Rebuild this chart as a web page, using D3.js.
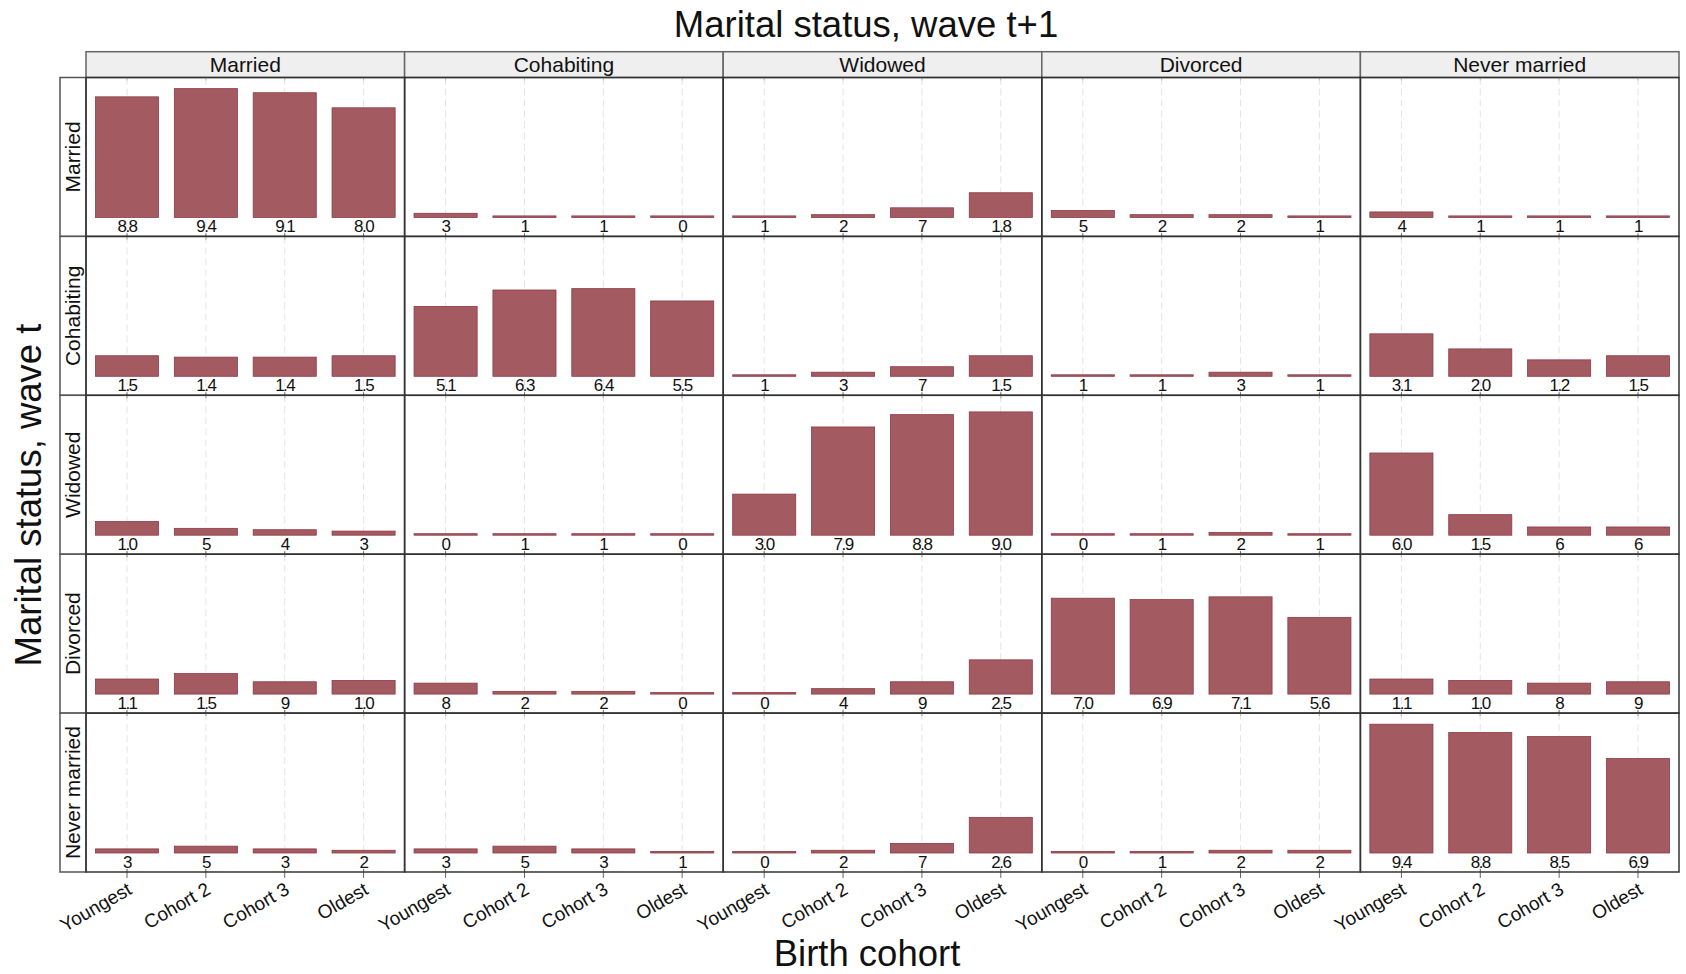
<!DOCTYPE html>
<html>
<head>
<meta charset="utf-8">
<script src="https://cdn.jsdelivr.net/npm/d3@7"></script>
<style>
  body { margin: 0; background: #fff; }
  text { font-family: "Liberation Sans", Arial, sans-serif; fill: #111; }
</style>
</head>
<body>
<svg id="chart"></svg>
<script>
// marital status categories (rows = wave t, columns = wave t+1)
const statuses = ["Married", "Cohabiting", "Widowed", "Divorced", "Never married"];
const cohorts = ["Youngest", "Cohort 2", "Cohort 3", "Oldest"];

// transition percentages, one array per wave-t status, columns in order of statuses
const fromMarried = [
  [88, 94, 91, 80], [3, 1, 1, 0], [1, 2, 7, 18], [5, 2, 2, 1], [4, 1, 1, 1]
];
const fromCohabiting = [
  [15, 14, 14, 15], [51, 63, 64, 55], [1, 3, 7, 15], [1, 1, 3, 1], [31, 20, 12, 15]
];
const fromWidowed = [
  [10, 5, 4, 3], [0, 1, 1, 0], [30, 79, 88, 90], [0, 1, 2, 1], [60, 15, 6, 6]
];
const fromDivorced = [
  [11, 15, 9, 10], [8, 2, 2, 0], [0, 4, 9, 25], [70, 69, 71, 56], [11, 10, 8, 9]
];
const fromNeverMarried = [
  [3, 5, 3, 2], [3, 5, 3, 1], [0, 2, 7, 26], [0, 1, 2, 2], [94, 88, 85, 69]
];
const rowsData = [fromMarried, fromCohabiting, fromWidowed, fromDivorced, fromNeverMarried];

const W = 1686, H = 974;
const gridLeft = 86, gridRight = 1679, gridTop = 77.5, gridBottom = 872;
const stripTop = 51.7, rowStripLeft = 60;

const svg = d3.select('#chart').attr('width', W).attr('height', H);

const colScale = d3.scaleBand().domain(statuses).range([gridLeft, gridRight]);
const rowScale = d3.scaleBand().domain(statuses).range([gridTop, gridBottom]);
const colW = colScale.bandwidth(), rowH = rowScale.bandwidth();
const baseline = rowH - 19;

const x = d3.scaleBand().domain(cohorts).range([0, colW]).paddingInner(0.2).paddingOuter(0.12);
const y = d3.scaleLinear().domain([0, 100]).range([baseline, baseline - 137]);

const fmt = p => p >= 10 ? (p / 10).toFixed(1) : String(p);

// column strips
statuses.forEach(s => {
  svg.append('rect')
    .attr('x', colScale(s)).attr('y', stripTop)
    .attr('width', colW).attr('height', gridTop - stripTop)
    .attr('fill', '#efefef').attr('stroke', '#666').attr('stroke-width', 1.5);
  svg.append('text')
    .attr('x', colScale(s) + colW / 2).attr('y', gridTop - 6)
    .attr('text-anchor', 'middle').attr('font-size', '21px')
    .text(s);
});

// row strips
statuses.forEach(s => {
  svg.append('rect')
    .attr('x', rowStripLeft).attr('y', rowScale(s))
    .attr('width', gridLeft - rowStripLeft).attr('height', rowH)
    .attr('fill', '#fff').attr('stroke', '#555').attr('stroke-width', 1.5);
  svg.append('text')
    .attr('transform', `translate(${gridLeft - 6}, ${rowScale(s) + rowH / 2}) rotate(-90)`)
    .attr('text-anchor', 'middle').attr('font-size', '21px')
    .text(s);
});

// panels
statuses.forEach((rowStatus, ri) => {
  statuses.forEach((colStatus, ci) => {
    const vals = rowsData[ri][ci];
    const g = svg.append('g')
      .attr('transform', `translate(${colScale(colStatus)}, ${rowScale(rowStatus)})`);

    // grid lines
    g.selectAll('.grid').data(cohorts).enter().append('line')
      .attr('x1', c => x(c) + x.bandwidth() / 2).attr('x2', c => x(c) + x.bandwidth() / 2)
      .attr('y1', 0).attr('y2', rowH)
      .attr('stroke', '#e4e4e4').attr('stroke-width', 1).attr('stroke-dasharray', '7,4');

    // small ticks on the top and bottom edges
    g.selectAll('.tickb').data(cohorts).enter().append('line')
      .attr('x1', c => x(c) + x.bandwidth() / 2).attr('x2', c => x(c) + x.bandwidth() / 2)
      .attr('y1', rowH - 3).attr('y2', rowH + (ri === statuses.length - 1 ? 6 : 3))
      .attr('stroke', '#666').attr('stroke-width', 1);
    g.selectAll('.tickt').data(cohorts).enter().append('line')
      .attr('x1', c => x(c) + x.bandwidth() / 2).attr('x2', c => x(c) + x.bandwidth() / 2)
      .attr('y1', 0).attr('y2', 3)
      .attr('stroke', '#bbb').attr('stroke-width', 1);

    // bars
    g.selectAll('.bar').data(vals).enter().append('rect')
      .attr('x', (v, i) => x(cohorts[i]))
      .attr('width', x.bandwidth())
      .attr('y', v => Math.min(y(v), baseline - 1.5))
      .attr('height', v => Math.max(baseline - y(v), 1.5))
      .attr('fill', '#a35a60').attr('stroke', '#8f3a45').attr('stroke-width', 0.8);

    // value labels
    g.selectAll('.lab').data(vals).enter().append('text')
      .attr('x', (v, i) => x(cohorts[i]) + x.bandwidth() / 2)
      .attr('y', baseline + 15)
      .attr('text-anchor', 'middle').attr('font-size', '17px')
      .attr('letter-spacing', '-1.5px')
      .text(v => fmt(v));

    // panel border
    g.append('rect')
      .attr('width', colW).attr('height', rowH)
      .attr('fill', 'none').attr('stroke', '#333').attr('stroke-width', 1.5);
  });
});

// x tick labels under the bottom row
statuses.forEach(s => {
  cohorts.forEach(c => {
    const tx = colScale(s) + x(c) + x.bandwidth() / 2;
    svg.append('text')
      .attr('transform', `translate(${tx + 6}, ${gridBottom + 21}) rotate(-30)`)
      .attr('text-anchor', 'end').attr('font-size', '19px')
      .text(c);
  });
});

// titles
svg.append('text')
  .attr('x', 866).attr('y', 37)
  .attr('text-anchor', 'middle').attr('font-size', '36.5px')
  .text('Marital status, wave t+1');

svg.append('text')
  .attr('x', 867).attr('y', 966)
  .attr('text-anchor', 'middle').attr('font-size', '36.5px')
  .text('Birth cohort');

svg.append('text')
  .attr('transform', 'translate(41, 495) rotate(-90)')
  .attr('text-anchor', 'middle').attr('font-size', '36.5px')
  .text('Marital status, wave t');
</script>
</body>
</html>
